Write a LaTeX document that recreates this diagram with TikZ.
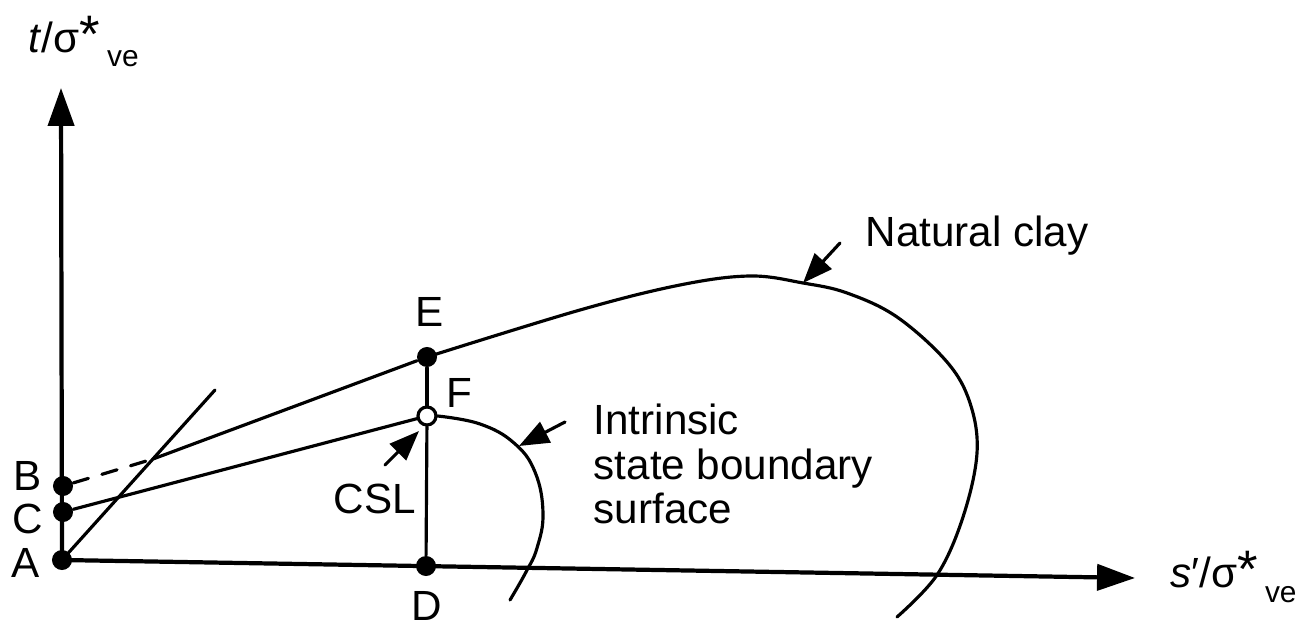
\documentclass[tikz,border=0pt]{standalone}
\usepackage{fontspec}
\setmainfont{Liberation Sans}
\usetikzlibrary{arrows.meta}
\begin{document}
\begin{tikzpicture}[x=0.01cm,y=-0.01cm,
  line join=round, line cap=round,
  dotnode/.style={circle,fill=black,inner sep=0pt,minimum size=0.2cm},
  opendot/.style={circle,draw=black,fill=white,line width=0.9pt,inner sep=0pt,minimum size=0.18cm},
  curve/.style={line width=0.9pt},
  axisline/.style={line width=1.2pt,-{Triangle[length=10.8pt,width=7.4pt]}},
  pointer/.style={line width=0.9pt,-{Triangle[length=8.5pt,width=6.5pt]}},
  lbl/.style={inner sep=0pt,font=\fontsize{12}{13}\selectfont},
]
\useasboundingbox (0,0) rectangle (1301,625);
% coordinates
\coordinate (ytip) at (61,88);
\coordinate (xtip) at (1135,578);
\coordinate (X) at (153,459);
\coordinate (T) at (215,390);
% points
\node[dotnode] (A) at (62,560) {};
\node[dotnode] (B) at (63,486) {};
\node[dotnode] (C) at (63,512) {};
\node[dotnode] (D) at (426,566) {};
\node[dotnode] (E) at (427,357) {};
% axes
\draw[axisline] (A.center) -- (ytip);
\draw[axisline] (A.center) -- (xtip);
% tangent line
\draw[curve] (A.center) -- (T);
% B dashed, then line to E
\draw[curve,dash pattern=on 4.5pt off 4pt] (B) -- (X);
\draw[curve] (X) -- (E);
% natural clay curve
\draw[curve] plot[smooth,tension=0.6] coordinates {(E.center) (580,310) (680,285) (750,276) (803,283) (847,293) (897,317) (947,362) (970,403) (977,453) (963,517) (937,575) (897,617)};
% F open dot
\node[opendot] (F) at (427,416) {};
% vertical line D-F-E
\draw[curve] (D) -- (F);
\draw[curve] (F) -- (E);
% CSL
\draw[curve] (C) -- (F);
% intrinsic curve
\draw[curve] plot[smooth,tension=0.7] coordinates {(F.east) (480,424) (514,443) (535,472) (543,513) (537,548) (526,572) (510,600)};
% pointers
\coordinate (pn1) at (840,243); \coordinate (pn2) at (803,283);
\coordinate (pi1) at (565,422); \coordinate (pi2) at (519,446);
\coordinate (pc1) at (385,465); \coordinate (pc2) at (419,431);
\draw[pointer] (pn1) -- (pn2);
\draw[pointer] (pi1) -- (pi2);
\draw[pointer] (pc1) -- (pc2);
% labels
\node[lbl,anchor=base] (lA) at (26,577) {A};
\node[lbl,anchor=base] (lB) at (28,491) {B};
\node[lbl,anchor=base] (lC) at (28,533) {C};
\node[lbl,anchor=base] (lD) at (427,620) {D};
\node[lbl,anchor=base] (lE) at (430,327) {E};
\node[lbl,anchor=base] (lF) at (459,408) {F};
\node[lbl,anchor=base west] (lcsl) at (333,513) {CSL};
\node[lbl,anchor=base west] (lnat) at (865,247) {Natural clay};
\node[lbl,anchor=base west] (lint1) at (593,435) {Intrinsic};
\node[lbl,anchor=base west] (lint2) at (593,479) {state boundary};
\node[lbl,anchor=base west] (lint3) at (593,523) {surface};
\node[lbl,anchor=base west] (ylab) at (28,53) {\textit{t}/σ{\fontsize{15}{15}\selectfont *}\kern0.07cm\raisebox{-0.14cm}{\fontsize{8.5}{9}\selectfont ve}};
\node[lbl,anchor=base west] (xlab) at (1170,587) {\textit{s}′/σ{\fontsize{15}{15}\selectfont *}\kern0.07cm\raisebox{-0.15cm}{\fontsize{8.5}{9}\selectfont ve}};
\end{tikzpicture}
\end{document}
